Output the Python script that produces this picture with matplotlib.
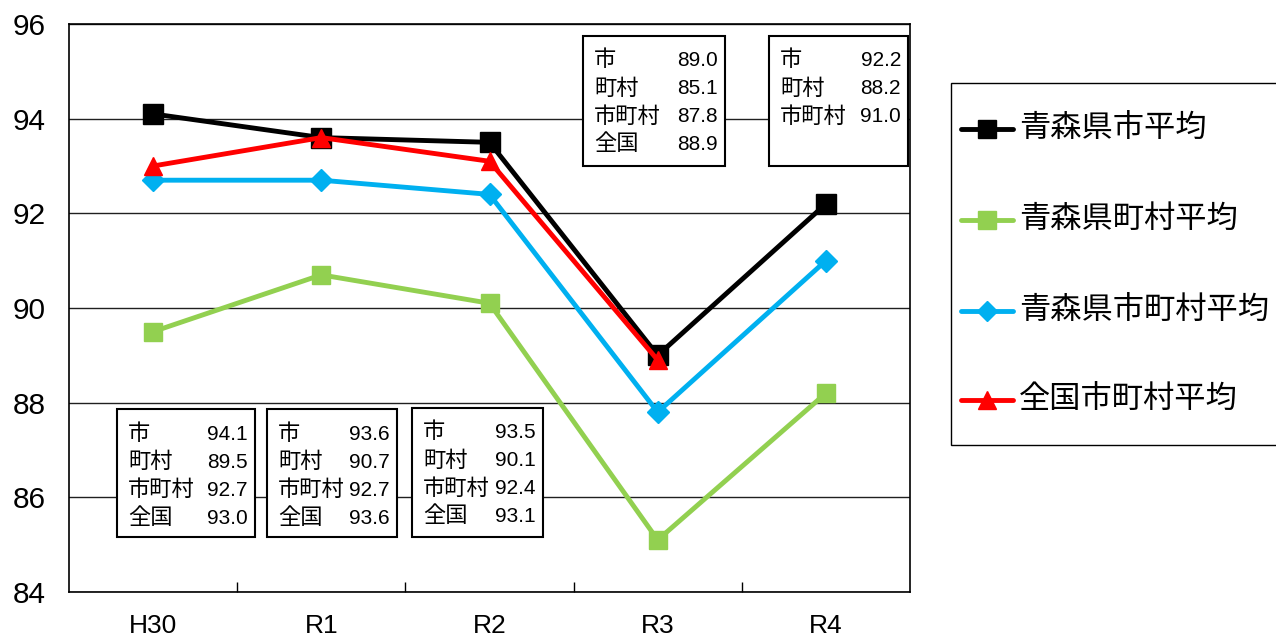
import numpy as np
import matplotlib
matplotlib.use("Agg")
from matplotlib import pyplot as plt
from matplotlib.patches import Rectangle
from matplotlib.lines import Line2D

plt.rcParams['font.family'] = ['Liberation Sans', 'Noto Sans CJK JP', 'DejaVu Sans']

years = ['H30', 'R1', 'R2', 'R3', 'R4']
shi = [94.1, 93.6, 93.5, 89.0, 92.2]
chouson = [89.5, 90.7, 90.1, 85.1, 88.2]
shichouson = [92.7, 92.7, 92.4, 87.8, 91.0]
zenkoku = [93.0, 93.6, 93.1, 88.9, None]

series_names = ['青森県市平均', '青森県町村平均', '青森県市町村平均', '全国市町村平均']
box_labels = ['市', '町村', '市町村', '全国']

W, H = 1276, 640
fig = plt.figure(figsize=(W / 100, H / 100), dpi=100)
ax = fig.add_axes([69 / W, 1 - 592 / H, (910 - 69) / W, (592 - 24) / H])

x = np.arange(len(years))
zk = np.array([np.nan if v is None else v for v in zenkoku])

styles = [
    dict(color='black', marker='s', ms=14, zorder=5),
    dict(color='#92D050', marker='s', ms=13, zorder=3),
    dict(color='#00B0F0', marker='D', ms=11, zorder=4),
    dict(color='#FF0000', marker='^', ms=13, zorder=6),
]
for vals, st in zip([shi, chouson, shichouson, zk], styles):
    ax.plot(x, vals, lw=3.5, **st)

ax.set_xlim(-0.5, 4.5)
ax.set_ylim(84, 96)
ax.set_yticks(np.arange(84, 97, 2))
ax.set_xticks(x)
ax.set_xticklabels(years)
ax.set_xticks(np.arange(0.5, 4.5, 1), minor=True)
ax.tick_params(axis='x', which='major', length=0, pad=16, labelsize=19)
ax.tick_params(axis='x', which='minor', direction='in', length=7, width=1)
ax.tick_params(axis='y', length=0, pad=17, labelsize=21.5)
ax.yaxis.grid(True, color='#202020', lw=1)
ax.set_axisbelow(True)
for s in ax.spines.values():
    s.set_color('black')
    s.set_linewidth(1.2)

# value boxes (left, top, width, height in pixels)
boxes = [(117, 409, 138, 128), (267, 409, 130, 128), (412, 408, 131, 129),
         (583, 36, 142, 130), (769, 36, 139, 130)]
cols = [shi, chouson, shichouson, zenkoku]
for i, (bl, bt, bw, bh) in enumerate(boxes):
    fig.patches.append(Rectangle((bl / W, 1 - (bt + bh) / H), bw / W, bh / H,
                                 transform=fig.transFigure, facecolor='white',
                                 edgecolor='black', lw=1.5, zorder=10))
    for r, (lab, col) in enumerate(zip(box_labels, cols)):
        if col[i] is None:
            continue
        yc = 1 - (bt + 25 + r * 28) / H
        fig.text((bl + 11) / W, yc, lab, ha='left', va='center', fontsize=16, zorder=11)
        fig.text((bl + bw - 7) / W, yc, f'{col[i]:.1f}', ha='right', va='center',
                 fontsize=15, zorder=11)

# legend drawn by hand: frame, sample line + marker, label
lx0, ly0, lx1, ly1 = 951, 83, 1280, 445
fig.patches.append(Rectangle((lx0 / W, 1 - ly1 / H), (lx1 - lx0) / W, (ly1 - ly0) / H,
                             transform=fig.transFigure, facecolor='white',
                             edgecolor='black', lw=1, zorder=10))
rows = [129, 220, 311, 400]
for name, st, ry in zip(series_names, styles, rows):
    yf = 1 - ry / H
    fig.add_artist(Line2D([961 / W, 1013 / W], [yf, yf], transform=fig.transFigure,
                          color=st['color'], lw=3.5, solid_capstyle='round', zorder=11))
    fig.add_artist(Line2D([987 / W], [yf], transform=fig.transFigure, color=st['color'],
                          marker=st['marker'], ms=st['ms'] * 0.95, zorder=12))
    fig.text(1019 / W, yf, name, ha='left', va='center', fontsize=22.5, zorder=12)

fig.savefig('out.png', dpi=100)
